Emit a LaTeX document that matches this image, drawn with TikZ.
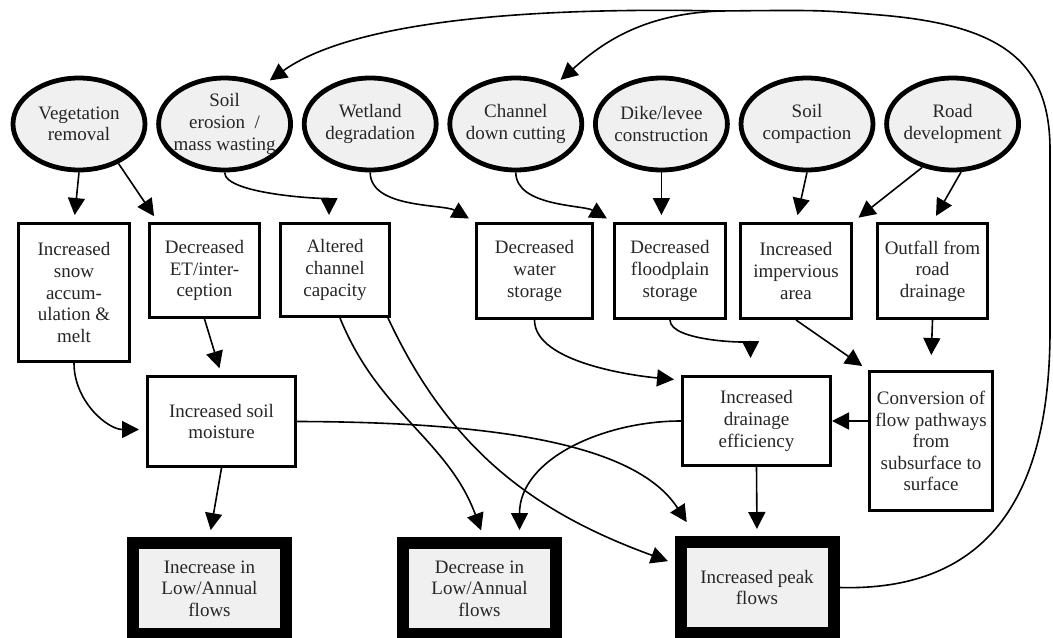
\documentclass[tikz,border=0pt]{standalone}
\usepackage{fontspec}
\setmainfont{Liberation Serif}
\newfontfamily\flowfont{Liberation Serif}
\usetikzlibrary{positioning, arrows.meta, shapes.geometric, calc}
\tikzset{
  cause/.style  ={ellipse, draw, line width=2.4pt, fill=gray!12, align=center,
                  minimum width=66pt, minimum height=46pt, inner xsep=-6pt, inner ysep=-2pt,
                  font=\flowfont\fontsize{9.5}{10.8}\selectfont, text=black!85},
  box/.style    ={draw, line width=1.3pt, fill=white, align=center, inner sep=2pt,
                  font=\flowfont\fontsize{9.5}{10.8}\selectfont, text=black!85},
  outcome/.style={draw, line width=6pt, fill=gray!12, align=center,
                  minimum width=76.5pt, minimum height=45.5pt,
                  font=\flowfont\fontsize{9.5}{10.8}\selectfont, text=black!85},
  flow/.style   ={-{Triangle[length=8.5pt,width=8.5pt]}, line width=0.8pt, shorten >=3.5pt},
}
\begin{document}
\begin{tikzpicture}[x=0.5pt, y=-0.5pt]
  \fill[white] (0,0) rectangle (1053,637);
  \useasboundingbox (0,0) rectangle (1053,637);
  % drivers
  \node[cause] (veg) at (79,124) {Vegetation\\removal};
  \node[cause, right=4.4pt of veg]  (eros) {Soil\\erosion~~/\\mass wasting};
  \node[cause, right=4.4pt of eros] (wet)  {Wetland\\degradation};
  \node[cause, right=4.4pt of wet]  (chan) {Channel\\down cutting};
  \node[cause, right=4.4pt of chan] (dike) {Dike/levee\\construction};
  \node[cause, right=4.4pt of dike] (comp) {Soil\\compaction};
  \node[cause, right=4.4pt of comp] (road) {Road\\development};
  % first effects
  \node[box, minimum width=55.7pt, minimum height=69.2pt] (snow)    at (74,292.5)  {Increased\\snow\\accum-\\ulation \&\\melt};
  \node[box, minimum width=55.2pt, minimum height=47.2pt] (et)      at (204.5,270.5) {Decreased\\ET/inter-\\ception};
  \node[box, minimum width=54.7pt, minimum height=46.7pt] (alt)     at (335,270)   {Altered\\channel\\capacity};
  \node[box, minimum width=58.2pt, minimum height=47.7pt] (water)   at (534.5,271) {Decreased\\water\\storage};
  \node[box, minimum width=55.7pt, minimum height=47.7pt] (flood)   at (670,271)   {Decreased\\floodplain\\storage};
  \node[box, minimum width=55.7pt, minimum height=47.7pt] (imperv)  at (796,271)   {Increased\\impervious\\area};
  \node[box, minimum width=55.2pt, minimum height=47.7pt] (outfall) at (932.5,271) {Outfall from\\road\\drainage};
  % second effects
  \node[box, minimum width=74.2pt, minimum height=45.2pt] (moist) at (221.5,421.5) {Increased soil\\moisture};
  \node[box, minimum width=74.2pt, minimum height=44.7pt] (drain) at (756.5,421)   {Increased\\drainage\\efficiency};
  \node[box, minimum width=61.7pt, minimum height=69.7pt] (conv)  at (931,441)     {Conversion of\\flow pathways\\from\\subsurface to\\surface};
  % outcomes
  \node[outcome] (low1) at (209.5,588.5) {Inecrease in\\Low/Annual\\flows};
  \node[outcome] (low2) at (479.5,588.5) {Decrease in\\Low/Annual\\flows};
  \node[outcome] (peak) at (757,587.5)   {Increased peak\\flows};
  % connectors
  \draw[flow] (veg.south) -- (snow.north);
  \draw[flow] (veg.-45) -- ($(et.north west)+(10,0)$);
  \draw[flow] (eros.south) to[out=-90,in=90,looseness=0.5] ($(alt.north)+(-6,0)$);
  \draw[flow] (wet.south) to[out=-90,in=150,looseness=0.8] (water.north west);
  \draw[flow] (chan.south) to[out=-90,in=150,looseness=0.8] (flood.north west);
  \draw[flow] (dike.south) -- (dike.south |- flood.north);
  \draw[flow] (comp.south) -- (imperv.north);
  \draw[flow] (road.-125) -- (imperv.north east);
  \draw[flow] (road.-80) -- (outfall.north);
  \draw[flow] (et.south) -- (moist.north);
  \draw[flow] (snow.south) to[out=-90,in=180] ($(moist.west)+(0,8)$);
  \draw[flow] (moist.south) -- (low1.north);
  \draw[flow] (moist.east) .. controls (520,422) and (640,450) .. ($(peak.north west)+(16,-8)$);
  \draw[flow] ($(alt.south)+(5,0)$) to[out=-68,in=110] ($(low2.north)+(4,0)$);
  \draw[flow] ($(alt.south east)+(-3,0)$) to[out=-65,in=160] ($(peak.west)+(0,-24)$);
  \draw[flow] (drain.west) to[out=180,in=90] ($(low2.north)+(40,0)$);
  \draw[flow] (water.south) to[out=-90,in=175,looseness=0.7] ($(drain.north west)+(0,5)$);
  \draw[flow] (flood.south) to[out=-90,in=90,looseness=0.6] ($(drain.north)+(-6,-10)$);
  \draw[flow] (imperv.south) -- (conv.north west);
  \draw[flow] (outfall.south) -- ($(conv.north)+(0,-8)$);
  \draw[flow, shorten >=0pt] (conv.west |- drain.east) -- (drain.east);
  \draw[flow] (drain.south) -- (peak.north);
  % feedback from peak flows
  \draw[flow] (peak.east) .. controls (1000,592) and (1050,480) .. (1050,330)
    -- (1050,150) .. controls (1050,60) and (1000,25) .. (880,15)
    .. controls (820,10) .. (720,11) coordinate (fork)
    .. controls (480,6) and (340,30) .. (eros.45);
  \draw[flow] (fork) .. controls (640,14) and (600,45) .. (chan.45);
\end{tikzpicture}
\end{document}
